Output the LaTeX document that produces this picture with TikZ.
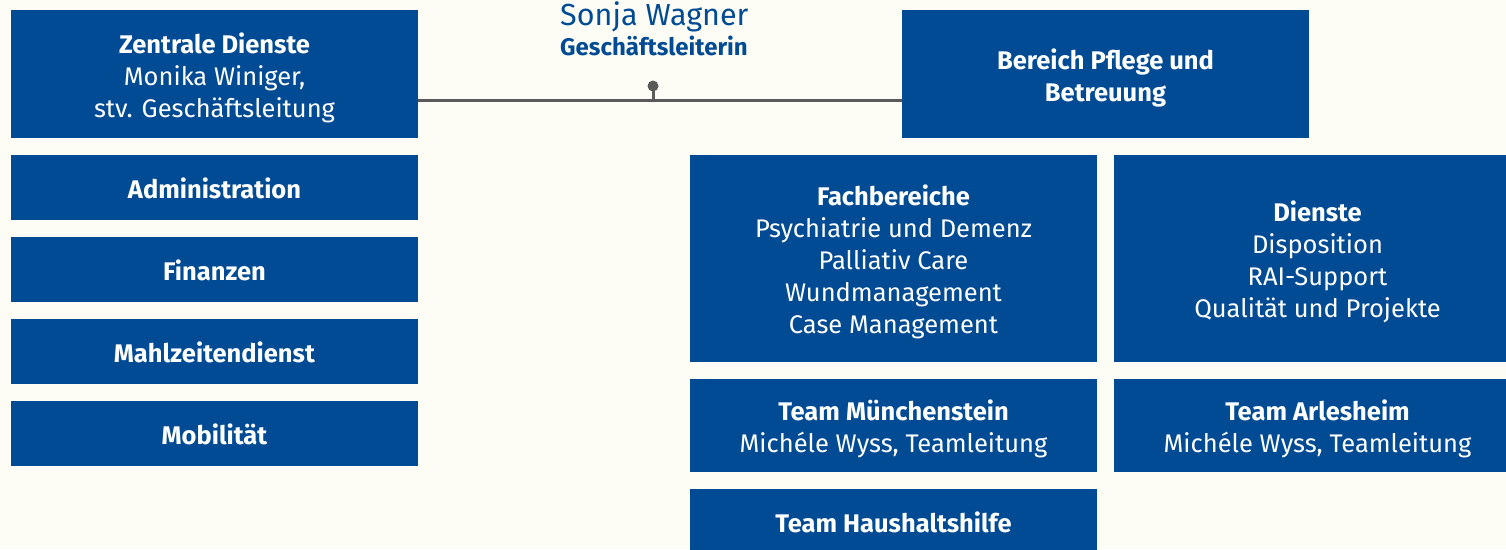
\documentclass[tikz,border=0pt]{standalone}
\usepackage{fontspec}
\setmainfont{Fira Sans}
\usetikzlibrary{positioning}
\definecolor{boxblue}{RGB}{0,75,147}
\definecolor{paper}{RGB}{253,253,245}
\definecolor{linegray}{RGB}{90,90,90}
\newcommand{\topgap}{\rule{0pt}{28pt}}
\newcommand{\botgap}{\rule[-4pt]{0pt}{4pt}}
\tikzset{
  orgbox/.style={fill=boxblue,text=white,minimum width=407pt,inner sep=0pt,
    align=center,font=\fontsize{25.5}{32}\selectfont},
  onerow/.style={orgbox,minimum height=65pt,
    execute at begin node={\rule[-4pt]{0pt}{30pt}}},
  tworow/.style={orgbox,minimum height=93pt},
  connector/.style={draw=linegray,line width=3pt}
}
\begin{document}
\begin{tikzpicture}[x=1pt,y=-1pt]
\fill[paper] (0,0) rectangle (1506,549);
\clip (0,0) rectangle (1506,549);
% Geschaeftsleitung
\node[anchor=base west,inner sep=0pt,text=boxblue,font=\fontsize{30.5}{32}\selectfont] (gl) at (560,25) {Sonja Wagner};
\node[anchor=base west,inner sep=0pt,text=boxblue,font=\fontsize{24}{26}\selectfont\bfseries] (gltitle) at (560,55) {Geschäftsleiterin};
% linke Spalte
\node[orgbox,minimum height=128pt] (zd) at (214.5,74) {\topgap\textbf{Zentrale Dienste}\\Monika Winiger,\\stv. Geschäftsleitung\botgap};
\foreach \i [count=\n] in {Administration,Finanzen,Mahlzeitendienst,Mobilität}
  \node[onerow] (L\n) at (214.5,105.5+\n*82) {\textbf{\i}};
% rechte Seite
\node[orgbox,minimum height=128pt] (bp) at (1105.5,74) {\topgap\textbf{Bereich Pflege und}\\\textbf{Betreuung}\botgap};
\node[orgbox,minimum height=207pt] (fb) at (893.5,258.5) {\topgap\textbf{Fachbereiche}\\Psychiatrie und Demenz\\Palliativ Care\\Wundmanagement\\Case Management\botgap};
\node[orgbox,minimum height=207pt] (di) at (1317.5,258.5) {\topgap\textbf{Dienste}\\Disposition\\RAI-Support\\Qualität und Projekte\botgap};
\node[tworow] (tm) at (893.5,425.5) {\topgap\textbf{Team Münchenstein}\\Michéle Wyss, Teamleitung\botgap};
\node[tworow] (ta) at (1317.5,425.5) {\topgap\textbf{Team Arlesheim}\\Michéle Wyss, Teamleitung\botgap};
\node[onerow] (th) at (893.5,521.5) {\textbf{Team Haushaltshilfe}};
% Verbindung
\coordinate (knot) at (653,100);
\coordinate (pin) at (653,86);
\draw[connector] (zd.east |- knot) -- (bp.west |- knot);
\draw[connector] (knot) -- (pin);
\fill[linegray] (pin) circle (5.5pt);
\end{tikzpicture}
\end{document}
